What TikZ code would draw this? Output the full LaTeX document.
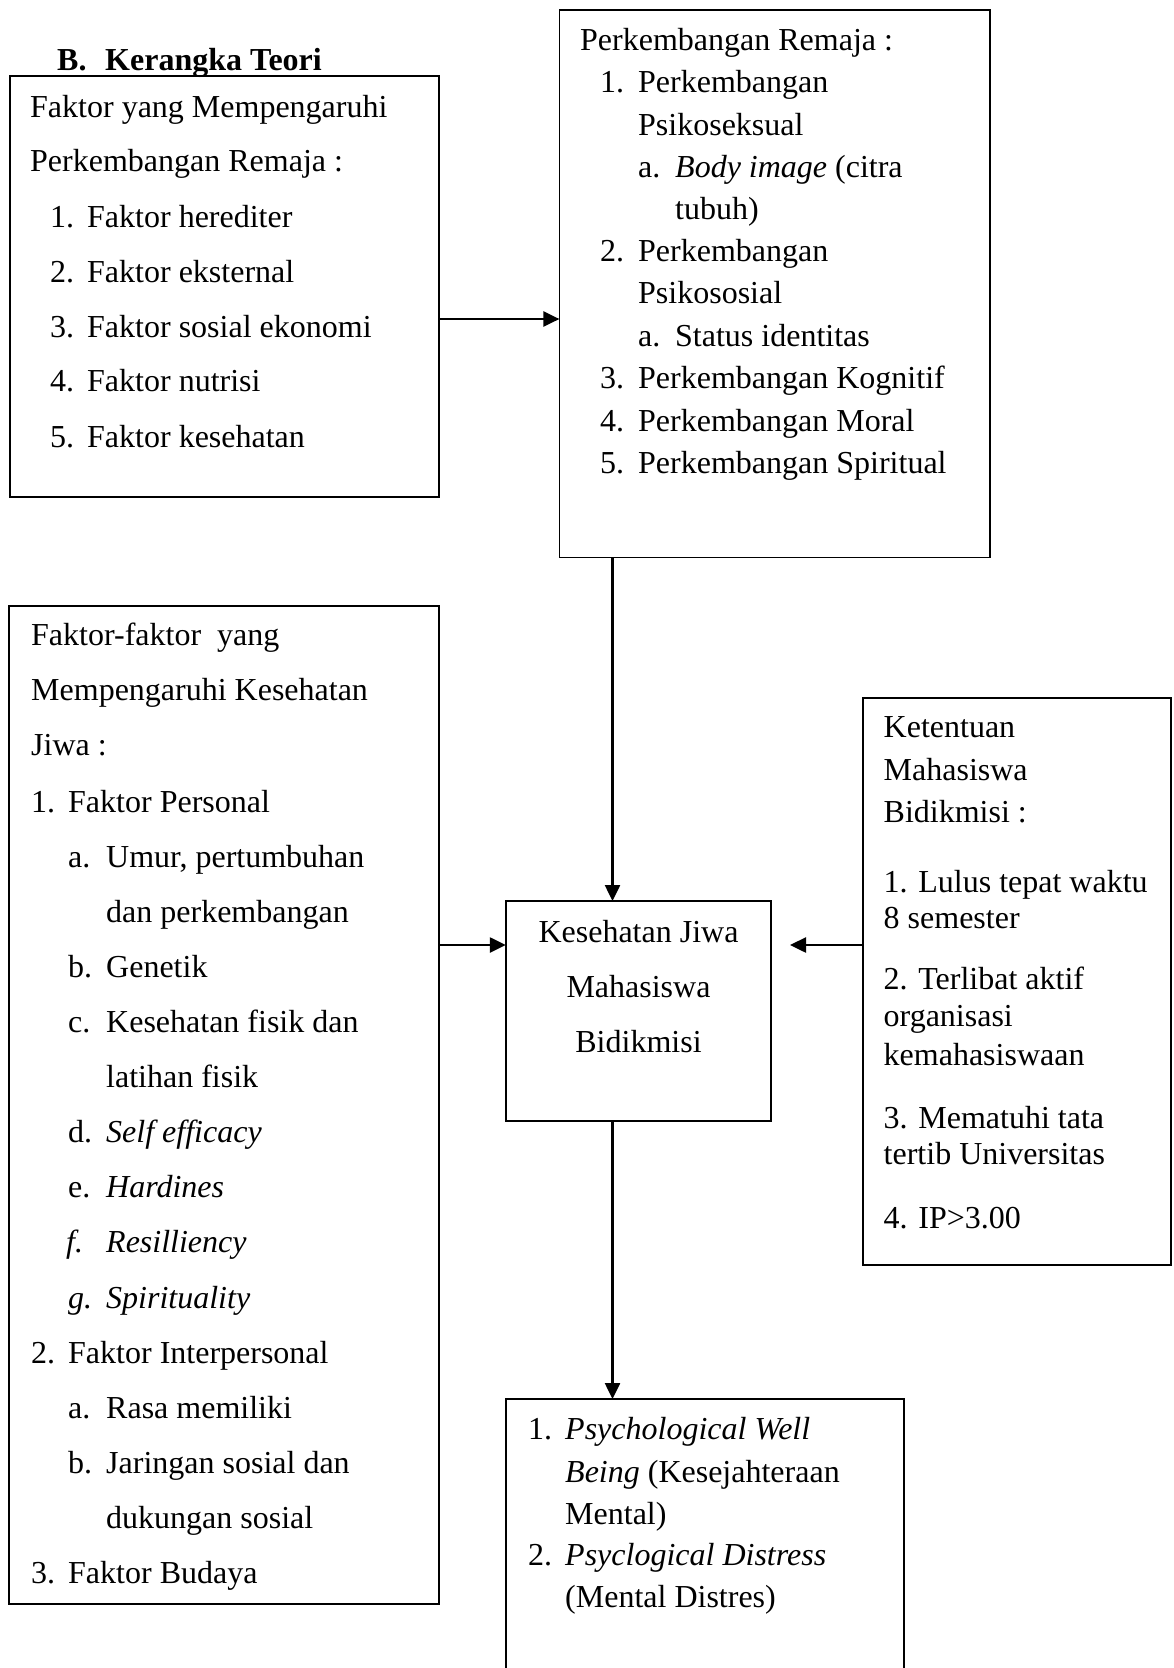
\documentclass[tikz,border=0pt]{standalone}
\usepackage{fontspec}
\setmainfont{Liberation Serif}
\usetikzlibrary{arrows.meta}
\newcommand\rbox[5]{\node[box, minimum width={(#4)-(#2)}, minimum height={(#5)-(#3)}] (#1) at ({((#2)+(#4))/2},{((#3)+(#5))/2}) {};}
\begin{document}
\begin{tikzpicture}[x=1pt,y=-1pt,
  box/.style={draw, line width=1.8pt, inner sep=0pt, outer sep=0pt},
  txt/.style={anchor=base west, inner sep=0pt, font=\fontsize{32}{38}\selectfont},
  ctxt/.style={anchor=base, inner sep=0pt, font=\fontsize{32}{38}\selectfont},
  arr/.style={line width=2.5pt, -{Triangle[length=16pt,width=15pt]}}]
\useasboundingbox (0,0) rectangle (1173,1668);
\clip (0,0) rectangle (1173,1668);
\fill[white] (0,0) rectangle (1173,1668);

% title
\node[txt] (tt1) at (57,70) {\textbf{B.}};
\node[txt] (tt2) at (105,70) {\textbf{Kerangka Teori}};

% boxes
\rbox{b1}{9.6}{76}{439}{497}
\rbox{b2}{559.4}{10}{990}{557.5}
\rbox{b3}{9}{606}{439}{1604}
\rbox{bc}{505.8}{901}{771}{1121}
\rbox{br}{862.7}{698}{1171}{1265}
\rbox{bo}{506}{1399}{904}{1720}

% box 1 text
\foreach \yy/\xx/\tt [count=\i] in {
  117/30/{Faktor yang Mempengaruhi},
  171/30/{Perkembangan Remaja :},
  227/50/{1.}, 227/87/{Faktor herediter},
  282/50/{2.}, 282/87/{Faktor eksternal},
  337/50/{3.}, 337/87/{Faktor sosial ekonomi},
  391/50/{4.}, 391/87/{Faktor nutrisi},
  447/50/{5.}, 447/87/{Faktor kesehatan}}
  \node[txt] (ta-\i) at (\xx,\yy) {\tt};

% box 2 text
\foreach \yy/\xx/\tt [count=\i] in {
  50/580/{Perkembangan Remaja :},
  92.5/600/{1.}, 92.5/638/{Perkembangan},
  135/638/{Psikoseksual},
  177.6/638/{a.}, 177.6/675/{\textit{Body image} (citra},
  219/675/{tubuh)},
  261/600/{2.}, 261/638/{Perkembangan},
  303/638/{Psikososial},
  346/638/{a.}, 346/675/{Status identitas},
  388/600/{3.}, 388/638/{Perkembangan Kognitif},
  431/600/{4.}, 431/638/{Perkembangan Moral},
  473.5/600/{5.}, 473.5/638/{Perkembangan Spiritual}}
  \node[txt] (tb-\i) at (\xx,\yy) {\tt};

% box 3 text
\foreach \yy/\xx/\tt [count=\i] in {
  645/31/{Faktor-faktor\ \ yang},
  700/31/{Mempengaruhi Kesehatan},
  755/31/{Jiwa :},
  812/31/{1.}, 812/68/{Faktor Personal},
  867/68/{a.}, 867/106/{Umur, pertumbuhan},
  922/106/{dan perkembangan},
  977/68/{b.}, 977/106/{Genetik},
  1032/68/{c.}, 1032/106/{Kesehatan fisik dan},
  1087/106/{latihan fisik},
  1142/68/{d.}, 1142/106/{\textit{Self efficacy}},
  1197/68/{e.}, 1197/106/{\textit{Hardines}},
  1252/66/{\textit{f.}}, 1252/106/{\textit{Resilliency}},
  1308/68/{\textit{g.}}, 1308/106/{\textit{Spirituality}},
  1363/31/{2.}, 1363/68/{Faktor Interpersonal},
  1418/68/{a.}, 1418/106/{Rasa memiliki},
  1473/68/{b.}, 1473/106/{Jaringan sosial dan},
  1528/106/{dukungan sosial},
  1583/31/{3.}, 1583/68/{Faktor Budaya}}
  \node[txt] (tc-\i) at (\xx,\yy) {\tt};

% centre box text
\node[ctxt] (td-1) at (638.5,942) {Kesehatan Jiwa};
\node[ctxt] (td-2) at (638.5,997) {Mahasiswa};
\node[ctxt] (td-3) at (638.5,1052) {Bidikmisi};

% right box text
\foreach \yy/\tt [count=\i] in {
  737/{Ketentuan},
  780/{Mahasiswa},
  822/{Bidikmisi :},
  892/{1. Lulus tepat waktu},
  928/{8 semester},
  989/{2. Terlibat aktif},
  1026/{organisasi},
  1065/{kemahasiswaan},
  1128/{3. Mematuhi tata},
  1164/{tertib Universitas},
  1228/{4. IP>3.00}}
  \node[txt] (te-\i) at (883.5,\yy) {\tt};

% bottom box text
\foreach \yy/\xx/\tt [count=\i] in {
  1439/528/{1.}, 1439/565/{\textit{Psychological Well}},
  1482/565/{\textit{Being} (Kesejahteraan},
  1524/565/{Mental)},
  1565/528/{2.}, 1565/565/{\textit{Psyclogical Distress}},
  1607/565/{(Mental Distres)}}
  \node[txt] (tf-\i) at (\xx,\yy) {\tt};

% connectors
\coordinate (ya) at (0,319);
\coordinate (yb) at (0,945);
\coordinate (xa) at (612.5,0);
\coordinate (tipr) at (790,945);
\draw[arr] (b1.east |- ya) -- (b2.west |- ya);
\draw[arr] (b2.south -| xa) -- (bc.north -| xa);
\draw[arr] (b3.east |- yb) -- (bc.west |- yb);
\draw[arr] (br.west |- yb) -- (tipr);
\draw[arr] (bc.south -| xa) -- (bo.north -| xa);
\end{tikzpicture}
\end{document}
